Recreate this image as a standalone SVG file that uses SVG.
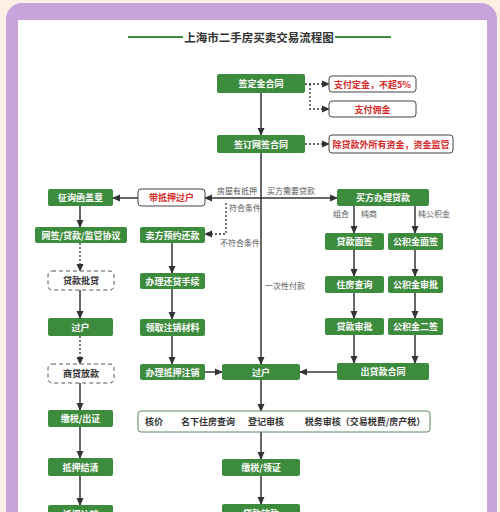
<svg xmlns="http://www.w3.org/2000/svg" width="500" height="512" viewBox="0 0 500 512">
<defs>
<marker id="ah" markerWidth="8" markerHeight="8" refX="7" refY="4" orient="auto" markerUnits="userSpaceOnUse"><path d="M0,0.5 L8,4 L0,7.5 Z" fill="#333"/></marker>
<style>
.g{fill:#3d8b3d;rx:2}
.gt{fill:#fff;font-family:"Noto Sans CJK SC",sans-serif;font-size:9px;font-weight:bold;text-anchor:middle;dominant-baseline:central}
.w{fill:#fff;stroke:#444;stroke-width:1}
.rt{fill:#d42a2a;font-family:"Noto Sans CJK SC",sans-serif;font-size:9px;font-weight:bold;text-anchor:middle;dominant-baseline:central}
.d{fill:#fff;stroke:#555;stroke-width:1;stroke-dasharray:4,3}
.dt{fill:#333;font-family:"Noto Sans CJK SC",sans-serif;font-size:9px;font-weight:bold;text-anchor:middle;dominant-baseline:central}
.lb{fill:#555;font-family:"Noto Sans CJK SC",sans-serif;font-size:8px;dominant-baseline:central}
.s{stroke:#333;stroke-width:1.5;fill:none}
.p{stroke:#333;stroke-width:1.3;fill:none;stroke-dasharray:2,2}
</style>
</defs>
<rect x="0" y="0" width="500" height="512" fill="#fdefe4"/>
<rect x="6" y="3" width="491" height="530" rx="16" fill="#c9a3dc"/>
<rect x="18" y="20" width="469" height="510" fill="#fff"/>
<g id="title">
<line x1="128" y1="37" x2="183" y2="37" stroke="#3d8b3d" stroke-width="2"/>
<line x1="335" y1="37" x2="391" y2="37" stroke="#3d8b3d" stroke-width="2"/>
<text x="259" y="37" fill="#333" font-family="'Noto Sans CJK SC',sans-serif" font-size="11.5" font-weight="bold" text-anchor="middle" dominant-baseline="central">上海市二手房买卖交易流程图</text>
</g>
<g id="connectors">
<line class="s" x1="261" y1="93" x2="261" y2="135" marker-end="url(#ah)"/>
<line class="s" x1="261" y1="153" x2="261" y2="364" marker-end="url(#ah)"/>
<path class="p" d="M305,84 H329" marker-end="url(#ah)"/>
<path class="p" d="M310,84 V109 H329" marker-end="url(#ah)"/>
<path class="p" d="M305,144 H329" marker-end="url(#ah)"/>
<line class="s" x1="261" y1="198" x2="205" y2="198" marker-end="url(#ah)"/>
<line class="s" x1="261" y1="198" x2="337" y2="198" marker-end="url(#ah)"/>
<path class="p" d="M226,203 V234 H205" marker-end="url(#ah)"/>
<line class="s" x1="138" y1="198" x2="113" y2="198" marker-end="url(#ah)"/>
<line class="s" x1="80" y1="206" x2="80" y2="227" marker-end="url(#ah)"/>
<line class="p" x1="80" y1="243" x2="80" y2="271" marker-end="url(#ah)"/>
<line class="s" x1="80" y1="290" x2="80" y2="318" marker-end="url(#ah)"/>
<line class="p" x1="80" y1="336" x2="80" y2="364" marker-end="url(#ah)"/>
<line class="s" x1="80" y1="383" x2="80" y2="410" marker-end="url(#ah)"/>
<line class="s" x1="80" y1="427" x2="80" y2="458" marker-end="url(#ah)"/>
<line class="s" x1="80" y1="476" x2="80" y2="505" marker-end="url(#ah)"/>
<line class="s" x1="172" y1="243" x2="172" y2="273" marker-end="url(#ah)"/>
<line class="s" x1="172" y1="289" x2="172" y2="319" marker-end="url(#ah)"/>
<line class="s" x1="172" y1="336" x2="172" y2="364" marker-end="url(#ah)"/>
<line class="s" x1="205" y1="372" x2="222" y2="372" marker-end="url(#ah)"/>
<line class="s" x1="337" y1="372" x2="300" y2="372" marker-end="url(#ah)"/>
<line class="s" x1="261" y1="380" x2="261" y2="411" marker-end="url(#ah)"/>
<line class="s" x1="261" y1="432" x2="261" y2="459" marker-end="url(#ah)"/>
<line class="s" x1="261" y1="476" x2="261" y2="504" marker-end="url(#ah)"/>
<line class="s" x1="354" y1="206" x2="354" y2="233" marker-end="url(#ah)"/>
<line class="s" x1="415" y1="206" x2="415" y2="233" marker-end="url(#ah)"/>
<line class="s" x1="354" y1="250" x2="354" y2="276" marker-end="url(#ah)"/>
<line class="s" x1="415" y1="250" x2="415" y2="276" marker-end="url(#ah)"/>
<line class="s" x1="354" y1="293" x2="354" y2="318" marker-end="url(#ah)"/>
<line class="s" x1="415" y1="293" x2="415" y2="318" marker-end="url(#ah)"/>
<line class="s" x1="354" y1="335" x2="354" y2="363" marker-end="url(#ah)"/>
<line class="s" x1="415" y1="335" x2="415" y2="363" marker-end="url(#ah)"/>
<text class="lb" x="217" y="190">房屋有抵押</text>
<text class="lb" x="267" y="190">买方需要贷款</text>
<text class="lb" x="229" y="207">符合条件</text>
<text class="lb" x="220" y="242">不符合条件</text>
<text class="lb" x="333" y="213">组合</text>
<text class="lb" x="361" y="213">纯商</text>
<text class="lb" x="418" y="213">纯公积金</text>
<text class="lb" x="265" y="285">一次性付款</text>
</g>
<g id="n1"><rect class="g" x="217" y="74" width="88" height="19"/><text class="gt" x="261" y="83.5">签定金合同</text></g>
<g id="n2"><rect class="w" x="329" y="76" width="87" height="16" rx="3"/><text class="rt" x="372.5" y="84">支付定金，不超5%</text></g>
<g id="n3"><rect class="w" x="329" y="101" width="87" height="16" rx="3"/><text class="rt" x="372.5" y="109">支付佣金</text></g>
<g id="n4"><rect class="g" x="217" y="135" width="88" height="18"/><text class="gt" x="261" y="144">签订网签合同</text></g>
<g id="n5"><rect class="w" x="329" y="135" width="124" height="18" rx="3"/><text class="rt" x="391" y="144">除贷款外所有资金，资金监管</text></g>
<g id="n6"><rect class="w" x="138" y="189" width="67" height="17" rx="3"/><text class="rt" x="171.5" y="197.5">带抵押过户</text></g>
<g id="n7"><rect class="g" x="48" y="189" width="65" height="17"/><text class="gt" x="80.5" y="197.5">征询函盖章</text></g>
<g id="n8"><rect class="g" x="35" y="227" width="92" height="16"/><text class="gt" x="81" y="235">网签/贷款/监管协议</text></g>
<g id="n9"><rect class="g" x="140" y="227" width="65" height="16"/><text class="gt" x="172.5" y="235">卖方预约还款</text></g>
<g id="n10"><rect class="g" x="337" y="189" width="92" height="17"/><text class="gt" x="383" y="197.5">买方办理贷款</text></g>
<g id="n11"><rect class="d" x="48" y="271" width="66" height="19" rx="4"/><text class="dt" x="81" y="280.5">贷款批贷</text></g>
<g id="n12"><rect class="g" x="48" y="318" width="65" height="18"/><text class="gt" x="80.5" y="327">过户</text></g>
<g id="n13"><rect class="d" x="48" y="364" width="66" height="19" rx="4"/><text class="dt" x="81" y="373.5">商贷放款</text></g>
<g id="n14"><rect class="g" x="48" y="410" width="65" height="17"/><text class="gt" x="80.5" y="418.5">缴税/出证</text></g>
<g id="n15"><rect class="g" x="48" y="458" width="65" height="18"/><text class="gt" x="80.5" y="467">抵押结清</text></g>
<g id="n16"><rect class="g" x="48" y="505" width="65" height="18"/><text class="gt" x="80.5" y="514">抵押注销</text></g>
<g id="n17"><rect class="g" x="140" y="273" width="65" height="16"/><text class="gt" x="172.5" y="281">办理还贷手续</text></g>
<g id="n18"><rect class="g" x="140" y="319" width="65" height="17"/><text class="gt" x="172.5" y="327.5">领取注销材料</text></g>
<g id="n19"><rect class="g" x="140" y="364" width="65" height="16"/><text class="gt" x="172.5" y="372">办理抵押注销</text></g>
<g id="n20"><rect class="g" x="222" y="364" width="78" height="16"/><text class="gt" x="261" y="372">过户</text></g>
<g id="n21"><rect class="g" x="325" y="233" width="59" height="17"/><text class="gt" x="354.5" y="241.5">贷款面签</text></g>
<g id="n22"><rect class="g" x="388" y="233" width="55" height="17"/><text class="gt" x="415.5" y="241.5">公积金面签</text></g>
<g id="n23"><rect class="g" x="325" y="276" width="59" height="17"/><text class="gt" x="354.5" y="284.5">住房查询</text></g>
<g id="n24"><rect class="g" x="388" y="276" width="55" height="17"/><text class="gt" x="415.5" y="284.5">公积金审批</text></g>
<g id="n25"><rect class="g" x="325" y="318" width="59" height="17"/><text class="gt" x="354.5" y="326.5">贷款审批</text></g>
<g id="n26"><rect class="g" x="388" y="318" width="55" height="17"/><text class="gt" x="415.5" y="326.5">公积金二签</text></g>
<g id="n27"><rect class="g" x="337" y="363" width="92" height="17"/><text class="gt" x="383" y="371.5">出贷款合同</text></g>
<g id="n28"><rect x="138" y="411" width="292" height="21" rx="3" fill="#fff" stroke="#5a8a5a" stroke-width="1"/>
<text class="dt" x="154" y="421.5">核价</text><text class="dt" x="208" y="421.5">名下住房查询</text><text class="dt" x="266" y="421.5">登记审核</text><text class="dt" x="365" y="421.5">税务审核（交易税费/房产税）</text></g>
<g id="n29"><rect class="g" x="222" y="459" width="78" height="17"/><text class="gt" x="261" y="467.5">缴税/领证</text></g>
<g id="n30"><rect class="g" x="222" y="504" width="78" height="18"/><text class="gt" x="261" y="513">贷款放款</text></g>
</svg>
